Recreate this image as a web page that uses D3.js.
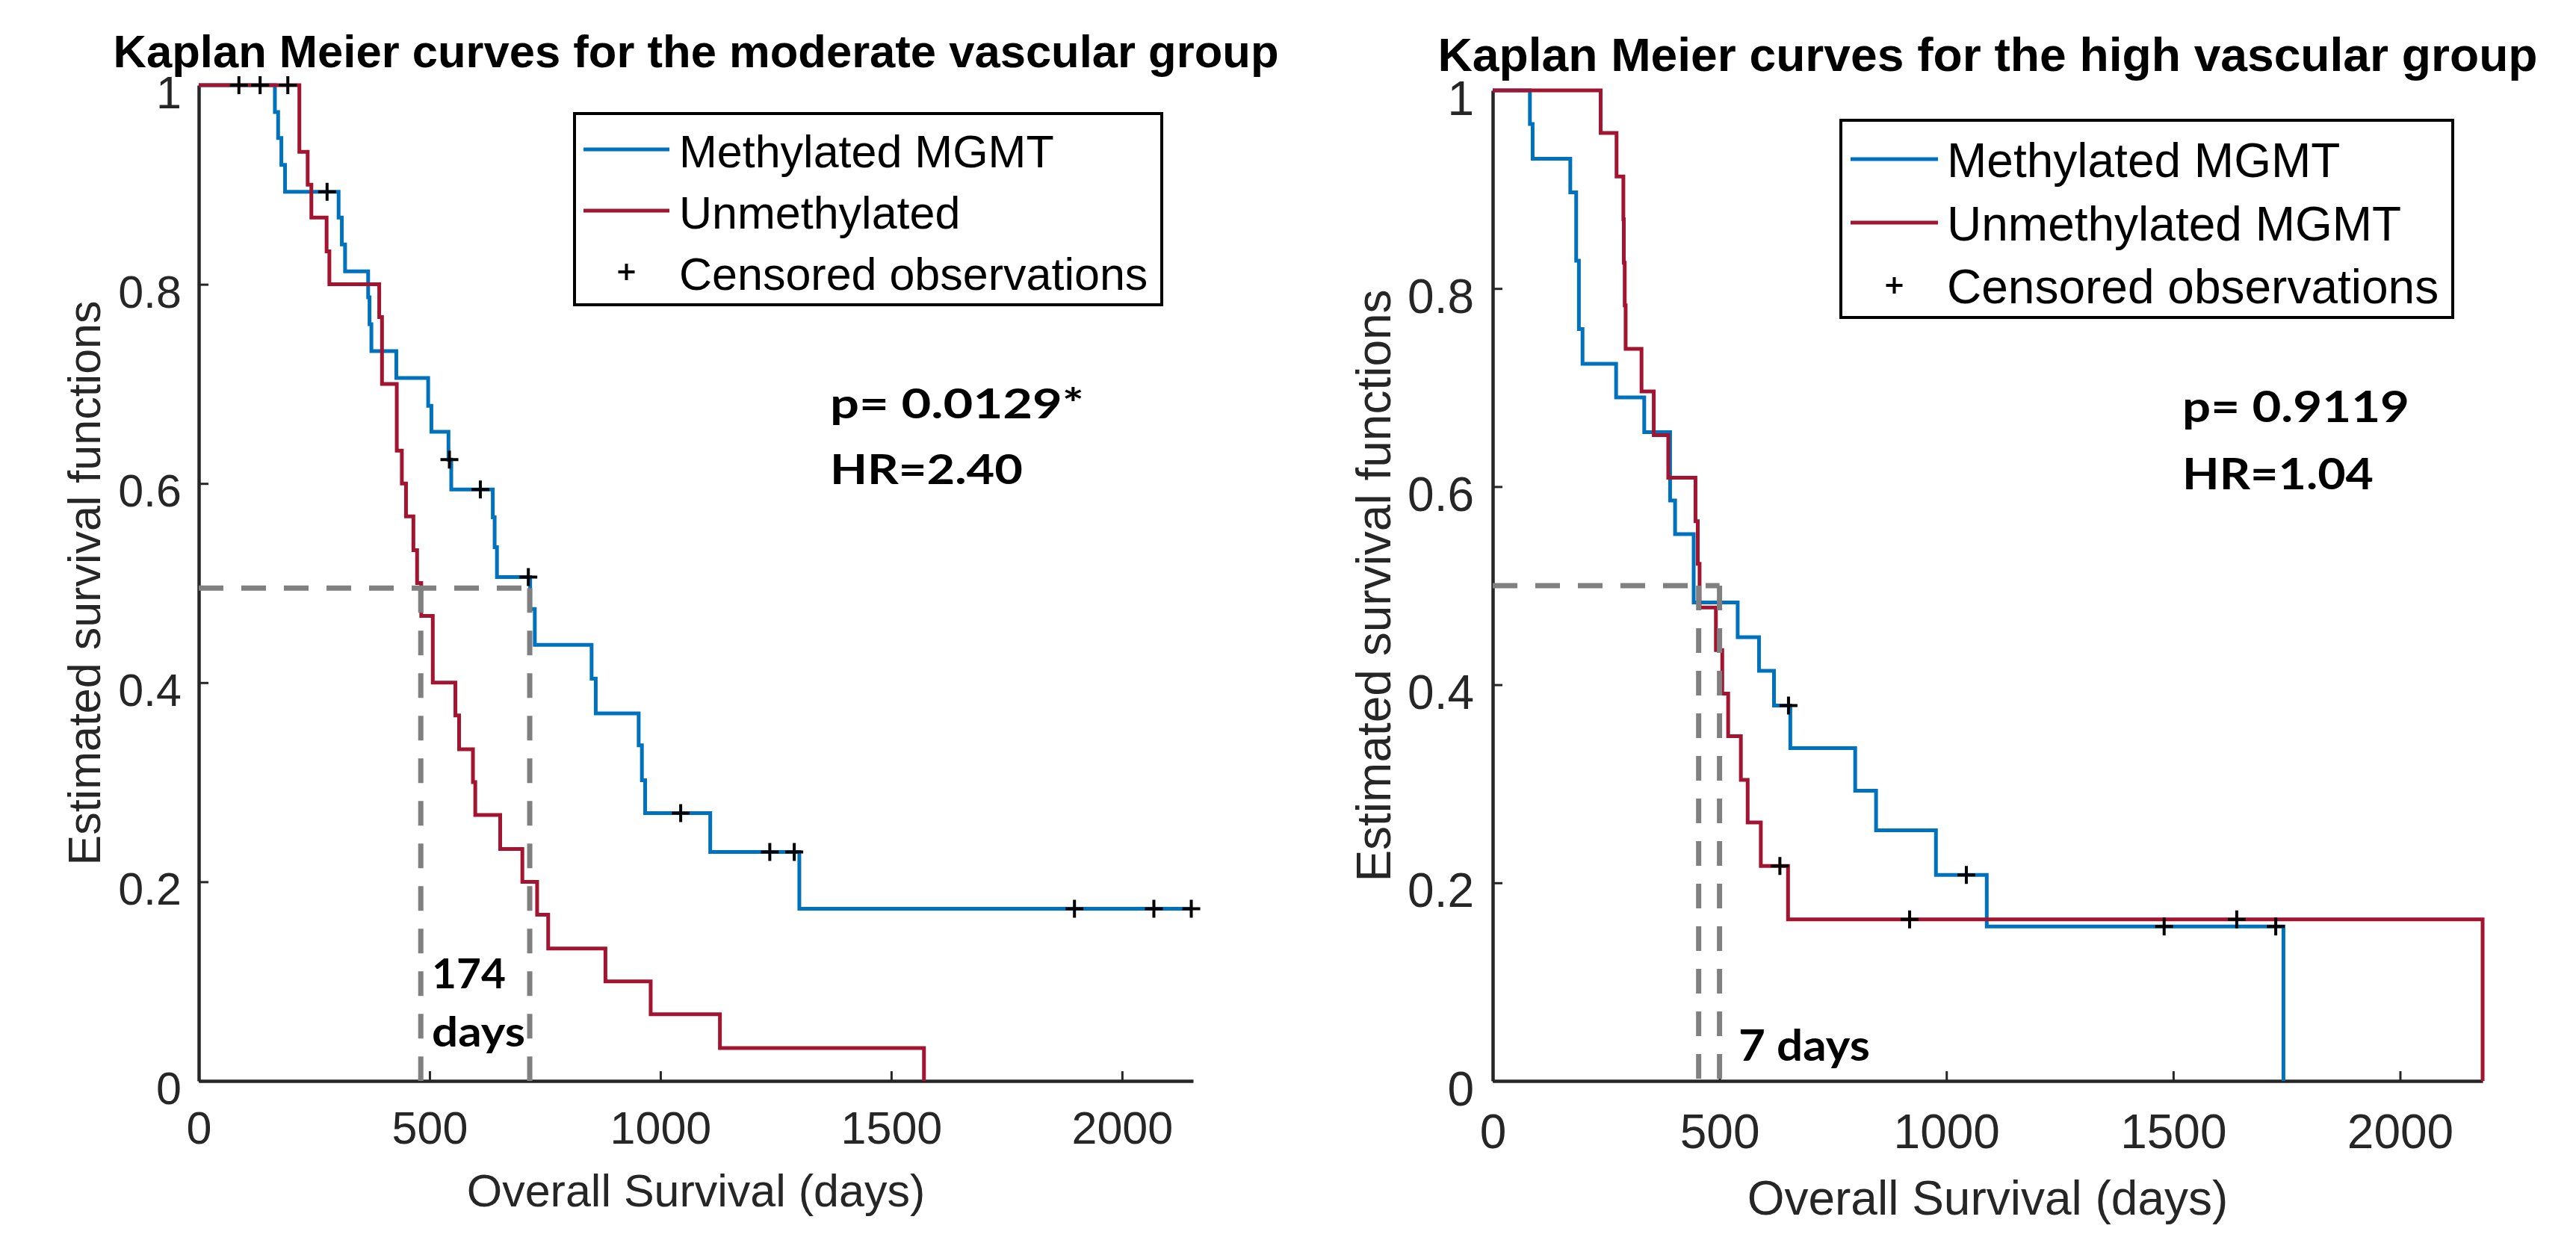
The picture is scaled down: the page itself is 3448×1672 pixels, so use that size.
<!DOCTYPE html>
<html>
<head>
<meta charset="utf-8">
<script src="https://cdn.jsdelivr.net/npm/d3@7"></script>
<style>
  html, body { margin: 0; padding: 0; background: #ffffff; }
  svg { display: block; }
</style>
</head>
<body>
<svg id="chart" width="3448" height="1672"></svg>
<script>
// ---------------- DATA ----------------
const xTicks = [0, 500, 1000, 1500, 2000];
const xTickLabels = ["0", "500", "1000", "1500", "2000"];
const yTicks = [0, 0.2, 0.4, 0.6, 0.8, 1];
const yTickLabels = ["0", "0.2", "0.4", "0.6", "0.8", "1"];

const titles = ["Kaplan Meier curves for the moderate vascular group",
                "Kaplan Meier curves for the high vascular group"];
const xLabel = "Overall Survival (days)";
const yLabel = "Estimated survival functions";
const legendLeft = ["Methylated MGMT", "Unmethylated", "Censored observations"];
const legendRight = ["Methylated MGMT", "Unmethylated MGMT", "Censored observations"];

// Moderate vascular group - Methylated MGMT
const modMethTime = [0, 165, 172, 179, 187, 303, 310, 317, 367, 370, 374, 428, 497, 504, 541, 547,
                     637, 641, 646, 718, 728, 851, 860, 953, 960, 967, 1108, 1301, 2152];
const modMethSurv = [1, 0.973, 0.947, 0.920, 0.893, 0.867, 0.840, 0.813, 0.787, 0.760, 0.733, 0.706,
                     0.678, 0.652, 0.624, 0.594, 0.566, 0.536, 0.506, 0.474, 0.438, 0.404, 0.369,
                     0.337, 0.302, 0.269, 0.230, 0.173, 0.173];
// Moderate vascular group - Unmethylated
const modUnmTime = [0, 218, 236, 244, 277, 283, 391, 397, 429, 440, 449, 465, 473, 482, 507, 556,
                    564, 594, 599, 653, 701, 733, 757, 881, 979, 1129, 1571];
const modUnmSurv = [1, 0.933, 0.900, 0.867, 0.833, 0.800, 0.767, 0.700, 0.633, 0.600, 0.567, 0.533,
                    0.500, 0.467, 0.400, 0.367, 0.333, 0.300, 0.267, 0.233, 0.200, 0.167, 0.133,
                    0.100, 0.067, 0.033, 0];
// Moderate group censored observations
const modCensTime = [87, 133, 193, 278, 543, 610, 714, 1044, 1237, 1290, 1897, 2069, 2150];
const modCensSurv = [1, 1, 1, 0.893, 0.624, 0.594, 0.506, 0.269, 0.230, 0.230, 0.173, 0.173, 0.173];
const modMedianLevel = 0.495;
const modMedians = [481, 717];

// High vascular group - Methylated MGMT
const highMethTime = [0, 82, 88, 171, 184, 190, 198, 272, 334, 391, 402, 443, 540, 587, 620, 656,
                      799, 845, 977, 1089, 1743];
const highMethSurv = [1, 0.966, 0.931, 0.897, 0.828, 0.759, 0.724, 0.690, 0.655, 0.586, 0.552,
                      0.483, 0.448, 0.414, 0.379, 0.336, 0.293, 0.253, 0.208, 0.156, 0];
// High vascular group - Unmethylated MGMT
const highUnmTime = [0, 238, 273, 288, 289, 291, 293, 328, 355, 387, 447, 452, 456, 492, 506, 519,
                     547, 562, 591, 651, 2182];
const highUnmSurv = [1, 0.957, 0.913, 0.870, 0.826, 0.783, 0.739, 0.696, 0.652, 0.609, 0.565, 0.522,
                     0.478, 0.435, 0.391, 0.348, 0.304, 0.261, 0.217, 0.163, 0];
// High group censored observations
const highCensTime = [633, 652, 919, 1044, 1480, 1640, 1726];
const highCensSurv = [0.217, 0.379, 0.163, 0.208, 0.156, 0.163, 0.156];
const highMedianLevel = 0.5;
const highMedians = [454, 500];

// ---------------- STYLE ----------------
const BLUE = "#0072BD";
const RED = "#A2142F";
const AXIS = "#262626";
const ARIAL = "'Liberation Sans', Arial, Helvetica, sans-serif";
const BOLDF = "Lato, 'Open Sans', sans-serif";

const zip = (a, b) => a.map((v, i) => [v, b[i]]);
const svg = d3.select("#chart");

function drawPanel(cfg) {
  const x = d3.scaleLinear().domain([0, cfg.xMax]).range([cfg.x0, cfg.x1]);
  const y = d3.scaleLinear().domain([0, 1]).range([cfg.yB, cfg.yT]);
  const g = svg.append("g");
  const fs = cfg.fs;

  // title
  g.append("text")
    .attr("x", (cfg.x0 + cfg.x1) / 2).attr("y", cfg.titleY)
    .attr("text-anchor", "middle")
    .attr("font-family", ARIAL).attr("font-weight", "bold")
    .attr("font-size", cfg.titleFs).attr("fill", "#000")
    .attr("textLength", cfg.titleLen).attr("lengthAdjust", "spacingAndGlyphs")
    .text(cfg.title);

  // axes
  const xAxis = d3.axisBottom(x).tickValues(xTicks)
    .tickFormat((d, i) => xTickLabels[i])
    .tickSizeInner(-13).tickSizeOuter(0).tickPadding(cfg.xPad);
  const yAxis = d3.axisLeft(y).tickValues(yTicks)
    .tickFormat((d, i) => yTickLabels[i])
    .tickSizeInner(-13).tickSizeOuter(0).tickPadding(cfg.yPad);

  const gx = g.append("g").attr("transform", `translate(0,${cfg.yB})`).call(xAxis);
  const gy = g.append("g").attr("transform", `translate(${cfg.x0},0)`).call(yAxis);
  [gx, gy].forEach(a => {
    a.select(".domain").attr("stroke", AXIS).attr("stroke-width", 4.5);
    a.selectAll(".tick line").attr("stroke", AXIS).attr("stroke-width", 3);
    a.selectAll(".tick text").attr("font-family", ARIAL).attr("font-size", fs).attr("fill", AXIS);
  });
  gy.selectAll(".tick text").attr("dy", "0.5em");

  // axis labels
  g.append("text")
    .attr("x", (cfg.x0 + cfg.x1) / 2).attr("y", cfg.xLabelY)
    .attr("text-anchor", "middle")
    .attr("font-family", ARIAL).attr("font-size", fs).attr("fill", AXIS)
    .text(xLabel);
  g.append("text")
    .attr("transform", `translate(${cfg.yLabelX},${(cfg.yT + cfg.yB) / 2}) rotate(-90)`)
    .attr("text-anchor", "middle")
    .attr("font-family", ARIAL).attr("font-size", fs).attr("fill", AXIS)
    .text(yLabel);

  // curves
  const line = d3.line().x(d => x(d[0])).y(d => y(d[1])).curve(d3.curveStepAfter);
  g.append("path").attr("d", line(zip(cfg.methT, cfg.methS)))
    .attr("fill", "none").attr("stroke", BLUE).attr("stroke-width", 5);
  g.append("path").attr("d", line(zip(cfg.unmT, cfg.unmS)))
    .attr("fill", "none").attr("stroke", RED).attr("stroke-width", 5);

  // median dashed lines
  const dash = "33,24";
  g.append("line")
    .attr("x1", x(0)).attr("x2", x(d3.max(cfg.medians)))
    .attr("y1", y(cfg.medLevel)).attr("y2", y(cfg.medLevel))
    .attr("stroke", "#808080").attr("stroke-width", 7).attr("stroke-dasharray", dash);
  cfg.medians.forEach(m => {
    g.append("line")
      .attr("x1", x(m)).attr("x2", x(m))
      .attr("y1", y(cfg.medLevel)).attr("y2", y(0))
      .attr("stroke", "#808080").attr("stroke-width", 7).attr("stroke-dasharray", dash);
  });

  // censored marks
  const plus = (px, py, s) => `M${px - s},${py}H${px + s}M${px},${py - s}V${py + s}`;
  g.append("path")
    .attr("d", zip(cfg.censT, cfg.censS).map(d => plus(x(d[0]), y(d[1]), 12)).join(""))
    .attr("fill", "none").attr("stroke", "#000").attr("stroke-width", 4);

  // legend
  const L = cfg.legend;
  g.append("rect")
    .attr("x", L.x).attr("y", L.y).attr("width", L.w).attr("height", L.h)
    .attr("fill", "#fff").attr("stroke", "#000").attr("stroke-width", 4);
  const colors = [BLUE, RED];
  cfg.legendText.forEach((t, i) => {
    const ry = L.rows[i];
    if (i < 2) {
      g.append("line").attr("x1", L.lx0).attr("x2", L.lx1).attr("y1", ry).attr("y2", ry)
        .attr("stroke", colors[i]).attr("stroke-width", 5);
    } else {
      g.append("path").attr("d", plus((L.lx0 + L.lx1) / 2, ry, 11))
        .attr("stroke", "#000").attr("stroke-width", 4).attr("fill", "none");
    }
    g.append("text").attr("x", L.tx).attr("y", ry + L.base)
      .attr("font-family", ARIAL).attr("font-size", fs).attr("fill", "#000")
      .text(t);
  });

  // annotations
  cfg.notes.forEach(n => {
    g.append("text").attr("x", n.x).attr("y", n.y)
      .attr("font-family", BOLDF).attr("font-weight", "bold")
      .attr("font-size", n.fs).attr("fill", "#000")
      .attr("textLength", n.len).attr("lengthAdjust", "spacingAndGlyphs")
      .text(n.t);
  });
}

drawPanel({
  title: titles[0], titleY: 90, titleFs: 61, titleLen: 1560,
  x0: 266, x1: 1597, yT: 114, yB: 1447, xMax: 2154,
  fs: 61, xPad: 41, yPad: 23, xLabelY: 1615, yLabelX: 134,
  methT: modMethTime, methS: modMethSurv, unmT: modUnmTime, unmS: modUnmSurv,
  censT: modCensTime, censS: modCensSurv,
  medLevel: modMedianLevel, medians: modMedians,
  legendText: legendLeft,
  legend: { x: 769, y: 152, w: 786, h: 256, rows: [200, 282, 364], lx0: 781, lx1: 896, tx: 909, base: 24 },
  notes: [
    { t: "p= 0.0129*", x: 1111, y: 560, fs: 56, len: 340 },
    { t: "HR=2.40", x: 1111, y: 648, fs: 56, len: 258 },
    { t: "174", x: 578, y: 1323, fs: 56, len: 99 },
    { t: "days", x: 578, y: 1401, fs: 56, len: 125 }
  ]
});

drawPanel({
  title: titles[1], titleY: 95, titleFs: 63, titleLen: 1472,
  x0: 1998, x1: 3323, yT: 121, yB: 1447, xMax: 2182,
  fs: 64, xPad: 45, yPad: 25, xLabelY: 1626, yLabelX: 1861,
  methT: highMethTime, methS: highMethSurv, unmT: highUnmTime, unmS: highUnmSurv,
  censT: highCensTime, censS: highCensSurv,
  medLevel: highMedianLevel, medians: highMedians,
  legendText: legendRight,
  legend: { x: 2464, y: 161, w: 819, h: 264, rows: [213, 298, 382], lx0: 2477, lx1: 2594, tx: 2606, base: 24 },
  notes: [
    { t: "p= 0.9119", x: 2921, y: 565, fs: 58, len: 304 },
    { t: "HR=1.04", x: 2921, y: 655, fs: 58, len: 256 },
    { t: "7 days", x: 2327, y: 1420, fs: 58, len: 176 }
  ]
});
</script>
</body>
</html>
